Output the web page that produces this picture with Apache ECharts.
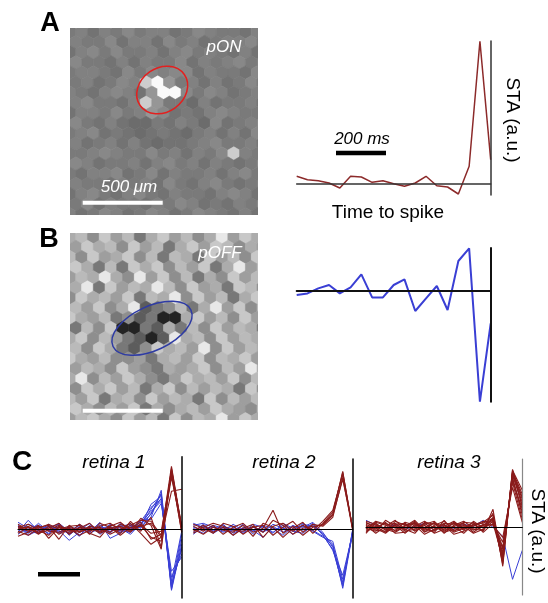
<!DOCTYPE html>
<html>
<head>
<meta charset="utf-8">
<script src="https://cdn.jsdelivr.net/npm/echarts@6/dist/echarts.min.js"></script>
<style>
  html, body { margin: 0; padding: 0; background: #fff; }
  #chart { width: 548px; height: 603px; }
</style>
</head>
<body>
<div id="chart"></div>
<script>
// grey level lookup (digit in the row strings -> grey value)
const onGray = [88, 100, 108, 115, 122, 129, 136, 150, 205, 250];
const offGray = [35, 62, 92, 120, 142, 158, 172, 186, 200, 232];

// receptive field maps, one char per hexagon, row by row
const pOnRows = [
  '45354645534654435',
  '54463553645345564',
  '35646445356454353',
  '64435354463545645',
  '45543646566354436',
  '45346589745353464',
  '54356537996465345',
  '56443587442534453',
  '35546457634356544',
  '64353224354263456',
  '45634323432453536',
  '53453532334564453',
  '44565446453546854',
  '65344535645354346',
  '43556346354453564',
  '54435453643564345',
  '35643564354435653',
  '46354435465343546',
  '53465346534654353'
];
const pOffRows = [
  '67485736857469586',
  '58674857368587465',
  '74856847376385748',
  '86373868475836957',
  '57696495847364857',
  '69385769748563874',
  '48675837694857368',
  '75846923473695847',
  '86573423006857485',
  '37480032637485763',
  '68475320296748576',
  '74863248675948576',
  '86574453675847685',
  '57648543656847596',
  '69475864358675847',
  '48685736847576384',
  '75836748576384757',
  '86475836467586547',
  '57864857384769586'
];

// example STA traces (a.u.), 19 bins
const staOn = [7.7, 4.3, 3.3, 1, -4, 7.7, 7, 1.7, 3.3, 0.3, -2.3, 1, 7.7, -1.7, -3, -10, 17.7, 142.7, 24.3];
const staOff = [-4.3, -2.7, 2.3, 5.7, -2.7, 3.3, 16.3, -6.7, -6.7, 5.7, 11.3, -20.3, -7.7, 4.7, -19.3, 29.7, 42.3, -111, -32.7];

// population STAs per retina, 17 bins
const r1On = [
  [3, -2, 4, -9, 2, -4, 5, -2, 3, 6, -1, 4, 9, 8, -6, 63, 2],
  [-4, 2, -5, 3, -10, 4, -3, 2, -4, 1, 3, -2, 4, -8, -12, 60, 0],
  [2, 5, -1, -6, 3, -2, 1, 6, -3, 2, -4, 8, -2, 12, -18, 58, 4],
  [-7, -3, 2, 4, -5, 1, -6, -1, 2, -3, 5, 1, 7, -10, -5, 55, -2],
  [0, 3, -3, 1, 6, -5, 2, -4, -8, 4, 2, -3, 11, 4, -20, 61, 1],
  [5, -1, 3, -2, -3, 2, -2, 3, 1, -5, 0, 6, -4, -15, -8, 52, 3],
  [-2, -6, 1, 5, 0, 3, 4, -5, 6, 2, -6, 2, 3, 6, -8, 38, 40],
  [1, 2, -4, -1, 4, -1, -3, 1, -2, 3, 7, -1, 5, -4, -2, 57, -3]
];
const r1Off = [
  [4, -3, 6, -2, 3, -5, 2, -4, 1, 3, -2, 2, 5, 15, 36, -60, -10],
  [-3, 9, -2, 5, -4, 2, -6, 3, -1, -3, 4, -1, 8, 22, 30, -55, -20],
  [2, -4, 3, -5, 6, -2, 4, -3, 7, -9, -4, 3, 2, 12, 39, -58, -5],
  [-5, 2, -3, 4, -1, -11, -3, 1, -3, 5, 1, -5, 6, 18, 28, -48, -25],
  [7, 1, 4, -1, -3, 3, -1, 6, -5, 2, -3, 4, 3, 25, 33, -61, -15],
  [0, -2, -4, 2, 5, -6, 3, -2, 4, -4, 6, 0, 9, 10, 26, -42, -28],
  [-2, 5, 1, -4, 2, 1, -7, 4, -2, 1, -1, -3, 4, 20, 35, -52, -2],
  [3, -6, -1, 3, -2, -3, 5, -1, 2, -2, 3, 5, 1, 16, 31, -57, -18]
];
const r2On = [
  [3, -2, 4, -5, 2, 6, -3, 1, 19, -4, 3, -6, 2, 5, 15, 58, 0],
  [-2, 4, -3, 2, -6, 1, 5, -8, 3, 6, -2, 4, -1, 8, 19, 55, 1],
  [5, 1, -4, 6, 3, -5, 2, 4, -6, 2, 8, -3, 5, 3, 12, 52, -1],
  [0, -5, 2, -1, -3, 4, -7, 6, 2, -8, 1, 7, -4, 6, 17, 57, 0],
  [-4, 2, 6, 3, -1, -2, 3, -3, 9, 4, -5, 1, 3, 4, 14, 50, 2]
];
const r2Off = [
  [4, 6, 2, -3, 1, -4, 3, -2, 0, 2, -5, 5, 3, -4, -15, -59, -3],
  [-3, 5, -2, 4, -6, 2, -1, -8, 3, -3, 4, -1, 6, -6, -20, -55, -1],
  [2, -1, 4, 1, 3, -3, 5, 2, -4, 6, 1, 3, -2, -8, -12, -50, -5],
  [-5, 3, -4, 2, -2, 5, -5, 4, 1, -6, 3, 2, 7, -3, -18, -57, 0],
  [1, -4, 3, -2, 5, -1, 2, -3, 5, 1, -2, -4, 4, -5, -21, -46, -4],
  [6, 2, -1, 5, -4, 1, -2, 3, -3, 4, -1, 6, -1, -7, -16, -53, -2]
];
const r3On = [
  [3, -2, 5, -4, 2, -1, 4, -3, 1, 6, -2, 3, -4, 18, -39, 58, 20],
  [-5, 4, -3, 2, -6, 3, -2, 5, -4, 1, 4, -5, 2, 8, -30, 55, 30],
  [2, -6, 1, 7, -3, 5, -5, 2, 6, -3, -1, 2, 6, 5, -25, 50, 12],
  [-3, 1, -5, 3, 4, -4, 2, -6, -2, 4, 3, -2, -3, 10, -35, 57, 37],
  [6, 3, -2, -5, 1, 7, -3, 1, -5, -2, 5, 4, 1, 3, -15, 45, 8],
  [-1, -4, 7, 1, -2, -6, 5, 3, 2, -7, -4, 1, 5, 12, -28, 52, 25],
  [4, 2, -1, -3, 5, 2, -7, -2, 4, 3, 1, -6, -2, 6, -20, 48, 15],
  [-6, 5, 2, 4, -4, -2, 3, 6, -3, 1, -6, 3, 4, 9, -33, 56, 33],
  [1, -3, -4, 6, 2, 4, -1, -5, 7, -4, 2, -3, 3, 2, -10, 40, 5],
  [-2, 6, 3, -6, -5, 1, 6, -1, -1, 5, -3, 6, -1, 14, -37, 54, 28],
  [5, -1, -6, 2, 3, -3, 0, 4, -6, 2, 6, -1, 2, 7, -22, 47, 18],
  [-4, 0, 4, -1, -1, 6, -4, -3, 3, -5, -1, 5, -5, 4, -31, 53, 22]
];
const r3Off = [
  [7, 2, -1, 3, -2, 1, 4, -3, 2, -1, 3, 1, 7, 0, -9, -52, -23]
];

const retinaTitles = ['retina 1', 'retina 2', 'retina 3'];

const FONT = '"Liberation Sans", Arial, sans-serif';
const HEX_W = 11.7, HEX_ROW = 10.13, HEX_R = 6.85, HEX_Y0 = 4;
const RED = '#8a1b1b', BLUE = '#3a3fd6';

function hexCells(rows, gray) {
  const out = [];
  rows.forEach(function(row, r) {
    for (let c = 0; c < row.length; c++) {
      out.push([c * HEX_W + (r % 2) * HEX_W / 2, HEX_Y0 + r * HEX_ROW, gray[+row[c]]]);
    }
  });
  return out;
}

function renderHex(params, api) {
  const p = api.coord([api.value(0), api.value(1)]);
  const s = api.size([1, 1]);
  const R = HEX_R * Math.abs(s[0]);
  const pts = [];
  for (let k = 0; k < 6; k++) {
    const a = Math.PI / 180 * (60 * k - 90);
    pts.push([p[0] + R * Math.cos(a), p[1] + R * Math.sin(a)]);
  }
  const g = Math.round(api.value(2));
  const col = 'rgb(' + g + ',' + g + ',' + g + ')';
  return { type: 'polygon', shape: { points: pts }, style: { fill: col, stroke: col, lineWidth: 0.6 } };
}

function lineSeries(vals, idx, color, width, z) {
  return {
    type: 'line', xAxisIndex: idx, yAxisIndex: idx,
    data: vals.map(function(v, i) { return [i, v]; }),
    symbol: 'none', silent: true, z: z,
    lineStyle: { color: color, width: width, opacity: 1 }
  };
}

// grids: 0,1 images; 2,3 example traces; 4,5,6 retinas
const grids = [
  { left: 70, top: 28, width: 188, height: 187 },
  { left: 70, top: 233, width: 188, height: 187 },
  { left: 296.7, top: 41, width: 194, height: 154 },
  { left: 296.7, top: 248, width: 194, height: 153.7 },
  { left: 18, top: 456.7, width: 163.7, height: 141.3 },
  { left: 193.3, top: 459, width: 159.4, height: 139 },
  { left: 366, top: 459, width: 156.3, height: 136 }
];
const yRange = [null, null, [-11, 143], [-111, 42.7], [-68.7, 72.6], [-68.7, 70.3], [-67.7, 68.3]];
const axisCol = ['#000', '#000', '#333', '#111', '#000', '#000', '#888'];
const hAxisW = [0, 0, 1.5, 2, 1.2, 1.2, 1.2];
const vAxisW = [0, 0, 1.5, 2, 1.5, 1.5, 1.2];

const xAxes = [], yAxes = [];
grids.forEach(function(g, i) {
  g.containLabel = false;
  if (i < 2) {
    xAxes.push({ gridIndex: i, type: 'value', min: 0, max: 188, show: false });
    yAxes.push({ gridIndex: i, type: 'value', min: 0, max: 187, inverse: true, show: false });
    return;
  }
  const n = i < 4 ? 18 : 16;
  xAxes.push({
    gridIndex: i, type: 'value', min: 0, max: n, z: 5,
    axisLine: { show: true, onZero: true, lineStyle: { color: i === 6 ? '#000' : axisCol[i], width: hAxisW[i] } },
    axisTick: { show: false }, axisLabel: { show: false }, splitLine: { show: false }
  });
  yAxes.push({
    gridIndex: i, type: 'value', min: yRange[i][0], max: yRange[i][1], position: 'right', z: 5,
    axisLine: { show: true, onZero: false, lineStyle: { color: axisCol[i], width: vAxisW[i] } },
    axisTick: { show: false }, axisLabel: { show: false }, splitLine: { show: false }
  });
});

const series = [
  { type: 'custom', xAxisIndex: 0, yAxisIndex: 0, clip: true, silent: true, encode: { x: 0, y: 1 },
    renderItem: renderHex, data: hexCells(pOnRows, onGray) },
  { type: 'custom', xAxisIndex: 1, yAxisIndex: 1, clip: true, silent: true, encode: { x: 0, y: 1 },
    renderItem: renderHex, data: hexCells(pOffRows, offGray) },
  lineSeries(staOn, 2, '#8c2a2a', 1.5, 2),
  lineSeries(staOff, 3, '#3a3fd4', 2, 2)
];
[[r1Off, r1On], [r2Off, r2On], [r3Off, r3On]].forEach(function(pair, k) {
  pair[0].forEach(function(t) { series.push(lineSeries(t, 4 + k, BLUE, 1, 2)); });
  pair[1].forEach(function(t) { series.push(lineSeries(t, 4 + k, RED, 1.1, 3)); });
});

function txt(text, x, y, size, opts) {
  opts = opts || {};
  return {
    type: 'text', x: x, y: y, rotation: opts.rot || 0, z: 100,
    style: {
      text: text, fill: opts.color || '#000', font: (opts.italic ? 'italic ' : '') + (opts.bold ? 'bold ' : '') + size + 'px ' + FONT,
      textAlign: 'center', textVerticalAlign: 'middle'
    }
  };
}
function bar(x, y, w, h, color) {
  return { type: 'rect', z: 100, shape: { x: x, y: y, width: w, height: h }, style: { fill: color } };
}

const graphics = [
  txt('A', 50, 24, 27, { bold: true }),
  txt('B', 49, 240, 27, { bold: true }),
  txt('C', 22, 462, 28, { bold: true }),
  txt('pON', 224, 47, 17, { italic: true, color: '#fff' }),
  txt('pOFF', 220, 253, 17, { italic: true, color: '#fff' }),
  txt('500 μm', 129, 187, 17, { italic: true, color: '#fff' }),
  bar(82.7, 200.7, 80, 4, '#fff'),
  bar(82.7, 408.7, 80, 4, '#fff'),
  txt('200 ms', 362, 139, 17, { italic: true }),
  bar(336, 150.7, 50, 4.5, '#000'),
  txt('Time to spike', 388, 213, 19),
  txt('STA (a.u.)', 512, 120, 19, { rot: -Math.PI / 2 }),
  txt('STA (a.u.)', 537, 531, 19, { rot: -Math.PI / 2 }),
  bar(38, 572, 42, 4.5, '#000'),
  { type: 'ellipse', x: 162.2, y: 90, rotation: 35 * Math.PI / 180, z: 100,
    shape: { cx: 0, cy: 0, rx: 27, ry: 22 }, style: { fill: 'none', stroke: '#e3201f', lineWidth: 1.5 } },
  { type: 'ellipse', x: 152, y: 328.3, rotation: 25 * Math.PI / 180, z: 100,
    shape: { cx: 0, cy: 0, rx: 43, ry: 22 }, style: { fill: 'none', stroke: '#2e3ba4', lineWidth: 1.5 } }
];
retinaTitles.forEach(function(t, k) {
  graphics.push(txt(t, [114, 284, 449][k], 463, 19, { italic: true }));
});

const chart = echarts.init(document.getElementById('chart'), null, { renderer: 'canvas' });
chart.setOption({
  animation: false,
  backgroundColor: '#fff',
  grid: grids,
  xAxis: xAxes,
  yAxis: yAxes,
  series: series,
  graphic: graphics
});
</script>
</body>
</html>
